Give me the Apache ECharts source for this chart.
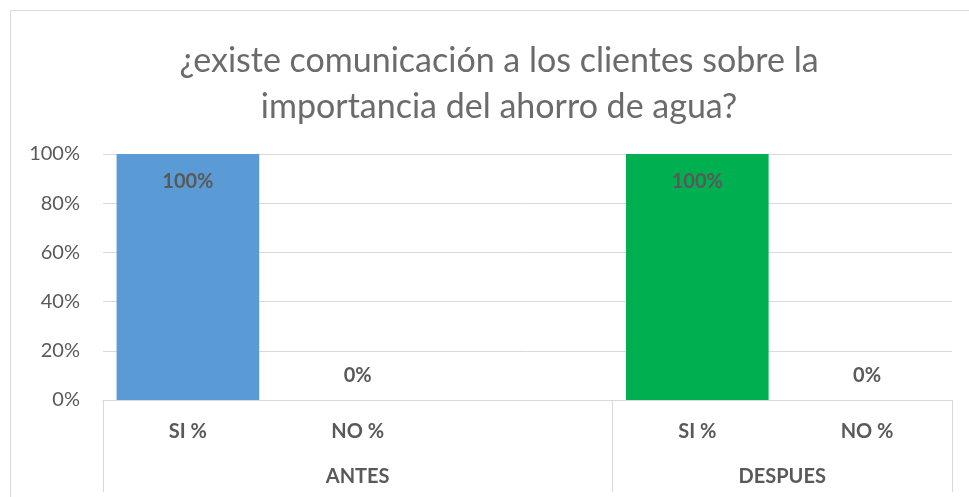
<!DOCTYPE html>
<html>
<head>
<meta charset="utf-8">
<title>ahorro de agua</title>
<script src="https://cdn.jsdelivr.net/npm/echarts@6/dist/echarts.min.js"></script>
<style>
    html, body { margin: 0; padding: 0; background: #fff; }
    #main { width: 969px; height: 497px; }
</style>
</head>
<body>
<div id="main"></div>
<script>
// datos
var categories = ['SI %', 'NO %', '', 'SI %', 'NO %'];
var antesValues = [100, 0, null, null, null];
var despuesValues = [null, null, null, 100, 0];
// eje de grupos: 11 posiciones (medias ranuras), etiquetas en 3 y 8, separadores en 0, 6 y 10
var groupSlots = ['', '', '', 'ANTES', '', '', '', '', 'DESPUES', '', ''];
var groupSeparators = [0, 6, 10];
var yTicks = [0, 20, 40, 60, 80, 100];

var font = 'Lato, "Open Sans", sans-serif';
var gray = '#595959';

function buildData(values) {
    return values.map(function (v) {
        if (v == null) return null;
        return {
            value: v,
            label: v > 0
                ? { position: 'insideTop', distance: 18 }
                : { position: 'top', distance: 14 }
        };
    });
}

var myChart = echarts.init(document.getElementById('main'));
var option = {
    animation: false,
    backgroundColor: '#fff',
    title: {
        text: '¿existe comunicación a los clientes sobre la\nimportancia del ahorro de agua?',
        left: 494,
        textAlign: 'center',
        top: 33,
        textStyle: {
            fontFamily: font,
            fontSize: 34,
            fontWeight: 'normal',
            color: '#6b6b6b',
            lineHeight: 46
        }
    },
    graphic: [{
        type: 'rect',
        shape: { x: 10.5, y: 10.5, width: 1000, height: 600 },
        style: { fill: 'none', stroke: '#d9d9d9', lineWidth: 1 },
        silent: true,
        z: -1
    }],
    grid: { left: 103, right: 17, top: 154, bottom: 97 },
    xAxis: [{
        type: 'category',
        data: categories,
        axisLine: { show: true, lineStyle: { color: '#d9d9d9' } },
        axisTick: { show: false },
        axisLabel: {
            interval: 0,
            margin: 22,
            fontFamily: font,
            fontSize: 20,
            fontWeight: 'bold',
            color: gray
        }
    }, {
        type: 'category',
        position: 'bottom',
        data: groupSlots,
        boundaryGap: false,
        axisLine: { show: false },
        axisTick: {
            show: true,
            length: 92,
            interval: function (index) {
                return groupSeparators.indexOf(index) >= 0;
            },
            lineStyle: { color: '#d9d9d9' }
        },
        axisLabel: {
            interval: function (index, value) {
                return value !== '';
            },
            margin: 67,
            fontFamily: font,
            fontSize: 20,
            fontWeight: 'bold',
            color: gray
        }
    }],
    yAxis: {
        type: 'value',
        min: yTicks[0],
        max: yTicks[yTicks.length - 1],
        interval: 20,
        axisLine: { show: false },
        axisTick: { show: false },
        splitLine: { lineStyle: { color: '#d9d9d9' } },
        axisLabel: {
            margin: 23,
            fontFamily: font,
            fontSize: 20,
            color: gray,
            formatter: '{value}%'
        }
    },
    series: [{
        name: 'ANTES',
        type: 'bar',
        stack: 'total',
        barWidth: '84%',
        data: buildData(antesValues),
        itemStyle: { color: '#5b9bd5' },
        label: {
            show: true,
            fontFamily: font,
            fontSize: 20,
            fontWeight: 'bold',
            color: gray,
            formatter: '{c}%'
        }
    }, {
        name: 'DESPUES',
        type: 'bar',
        stack: 'total',
        barWidth: '84%',
        data: buildData(despuesValues),
        itemStyle: { color: '#00b050' },
        label: {
            show: true,
            fontFamily: font,
            fontSize: 20,
            fontWeight: 'bold',
            color: gray,
            formatter: '{c}%'
        }
    }]
};
myChart.setOption(option);
</script>
</body>
</html>
